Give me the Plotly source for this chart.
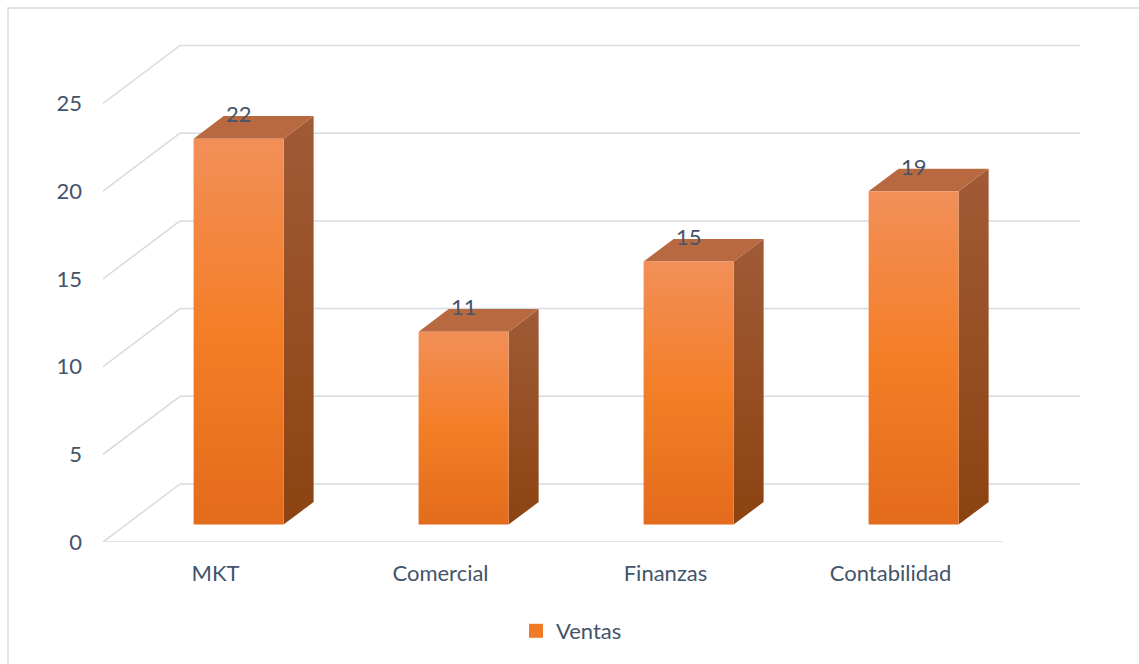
import plotly.graph_objects as go

# ---- data ----
categorias = ["MKT", "Comercial", "Finanzas", "Contabilidad"]
ventas = [22, 11, 15, 19]
serie = "Ventas"
y_ticks = [0, 5, 10, 15, 20, 25]

# ---- geometry of the oblique 3D projection (pixels) ----
W, H = 1139, 664
M_L, M_R, M_T, M_B = 103, 40, 30, 122
PX_PER_CAT = 225.0          # horizontal distance between categories
PX_PER_UNIT = 17.54         # vertical pixels per value unit
DEPTH_DX_PX, DEPTH_DY_PX = 77.0, 58.0   # offset from front plane to back wall

plot_w = W - M_L - M_R
plot_h = H - M_T - M_B
x_range = [-0.5, -0.5 + plot_w / PX_PER_CAT]
y_range = [0, plot_h / PX_PER_UNIT]

DX = DEPTH_DX_PX / PX_PER_CAT      # depth offset in x units
DY = DEPTH_DY_PX / PX_PER_UNIT     # depth offset in y units
BAR_W = 90.0 / PX_PER_CAT
BAR_D0, BAR_D1 = 0.30, 0.69        # bar front/back as fraction of depth

GRID = "#D6DAE1"
TEXT = "#44546A"
FONT = "Lato"
FS = 22

FRONT_SCALE = [[0, "#E36B1C"], [0.5, "#F47E27"], [1, "#F28F58"]]
SIDE_SCALE = [[0, "#8C4311"], [1, "#A05B37"]]
TOP_COLOR = "#B8693F"

fig = go.Figure()


def poly(xs, ys, **fill):
    fig.add_trace(go.Scatter(
        x=xs + [xs[0]], y=ys + [ys[0]], mode="lines", fill="toself",
        line=dict(width=0), hoverinfo="skip", showlegend=False, **fill))


for i, v in enumerate(ventas):
    fx = i + BAR_D0 * DX          # front-face centre
    fy = BAR_D0 * DY              # front-face base
    bx = (BAR_D1 - BAR_D0) * DX   # depth of the bar
    by = (BAR_D1 - BAR_D0) * DY
    x0, x1 = fx - BAR_W / 2, fx + BAR_W / 2
    # side face
    poly([x1, x1 + bx, x1 + bx, x1], [fy, fy + by, fy + by + v, fy + v],
         fillgradient=dict(type="vertical", colorscale=SIDE_SCALE))
    # top face
    poly([x0, x1, x1 + bx, x0 + bx], [fy + v, fy + v, fy + v + by, fy + v + by],
         fillcolor=TOP_COLOR)
    # front face
    poly([x0, x1, x1, x0], [fy, fy, fy + v, fy + v],
         fillgradient=dict(type="vertical", colorscale=FRONT_SCALE))
    fig.add_annotation(x=fx, y=fy + v, text=str(v), showarrow=False,
                       yshift=25, xanchor="center", yanchor="middle",
                       font=dict(family=FONT, size=FS, color=TEXT))

# legend entry
fig.add_trace(go.Scatter(
    x=[None], y=[None], mode="markers", name=serie,
    marker=dict(symbol="square", size=14, color="#F07A26")))

# gridlines: diagonal on the left side wall, then along the back wall
shapes = []
for t in y_ticks:
    shapes.append(dict(type="line", xref="x", yref="y", layer="below",
                       x0=-0.5, y0=t, x1=-0.5 + DX, y1=t + DY,
                       line=dict(color=GRID, width=1.5)))
    shapes.append(dict(type="line", xref="x", yref="y", layer="below",
                       x0=-0.5 + DX, y0=t + DY, x1=3.5 + DX, y1=t + DY,
                       line=dict(color=GRID, width=1.5)))
# front edge of the floor
shapes.append(dict(type="line", xref="x", yref="y", layer="below",
                   x0=-0.5, y0=0, x1=3.5, y1=0,
                   line=dict(color=GRID, width=1.5)))


def px_to_paper(px, py):
    return (px - M_L) / plot_w, (H - M_B - py) / plot_h


# chart area border
bx0, by0 = px_to_paper(8, 8)
bx1, by1 = px_to_paper(W + 10, H + 10)
shapes.append(dict(type="rect", xref="paper", yref="paper", layer="below",
                   x0=bx0, y0=by1, x1=bx1, y1=by0,
                   line=dict(color="#D9D9D9", width=1.5)))

legend_x, legend_y = px_to_paper(W / 2 + 2, 631)

fig.update_layout(
    width=W, height=H,
    margin=dict(l=M_L, r=M_R, t=M_T, b=M_B),
    paper_bgcolor="white", plot_bgcolor="white",
    shapes=shapes,
    showlegend=True,
    legend=dict(orientation="h", x=legend_x, y=legend_y,
                xanchor="center", yanchor="middle",
                font=dict(family=FONT, size=FS, color=TEXT),
                itemwidth=30),
    xaxis=dict(range=x_range, tickmode="array",
               tickvals=list(range(len(categorias))), ticktext=categorias,
               showgrid=False, zeroline=False, showline=False, ticks="",
               ticklabelstandoff=16,
               tickfont=dict(family=FONT, size=FS, color=TEXT),
               fixedrange=True),
    yaxis=dict(range=y_range, tickmode="array", tickvals=y_ticks,
               showgrid=False, zeroline=False, showline=False, ticks="",
               ticklabelstandoff=20,
               tickfont=dict(family=FONT, size=FS, color=TEXT),
               fixedrange=True),
)

fig.write_html("out.html")
